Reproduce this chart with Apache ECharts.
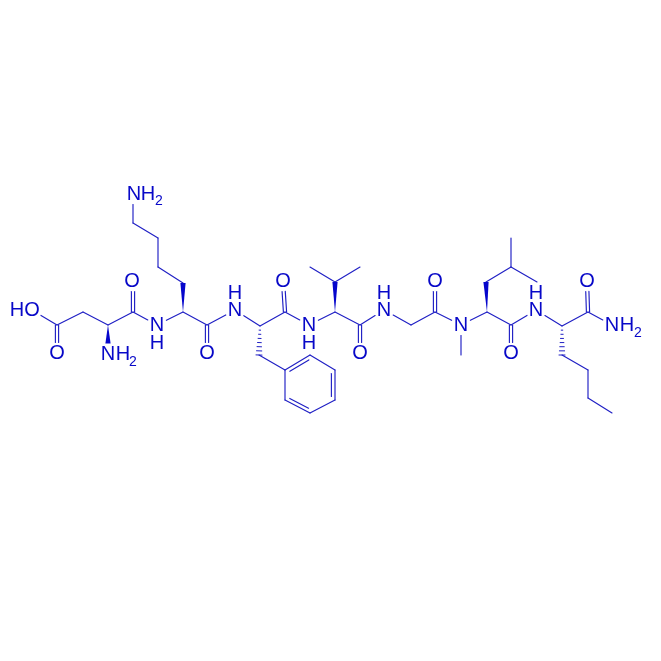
<!DOCTYPE html>
<html><head><meta charset="utf-8">
<style>html,body{margin:0;padding:0;background:#fff}#c{width:661px;height:661px}</style>
<script src="https://cdn.jsdelivr.net/npm/echarts@6/dist/echarts.min.js"></script>
</head><body><div id="c"></div>
<script>
// Atom positions
const atomX = [32,57,57,83,108,108,133,133,157,183,183,158,158,133,133,207,207,235,260,285,283,309,335,335,310,360,360,360,384,411,259,285,310,335,335,310,285,435,435,461,461,487,486,511,511,537,511,511,536,562,562,588,588,612,588,587,612];
const atomY = [310,325,353,312,325,354,312,281,325,312,283,267,238,223,194,325,353,310,326,312,281,325,312,282,267,267,325,353,310,325,355,370,355,370,400,413,400,312,281,325,355,312,282,267,238,282,325,353,310,326,355,370,398,413,312,281,325];
// Atoms that carry a text label, with the gap left around them
const labelledAtoms = [0,2,5,7,8,14,16,17,20,21,27,28,38,39,47,48,55,56];
const gapRadius = 10.5;
// Bonds as pairs of atom indexes
const singleBonds = [[0,1],[1,3],[3,4],[4,6],[6,8],[8,9],[10,11],[11,12],[12,13],[13,14],[9,15],[15,17],[17,18],[18,19],[19,21],[21,22],[23,24],[23,25],[22,26],[26,28],[28,29],[29,37],[37,39],[39,40],[39,41],[41,46],[42,43],[43,44],[43,45],[46,48],[48,49],[50,51],[51,52],[52,53],[49,54],[54,56],[30,31],[32,33],[34,35],[36,31]];
const carbonylBonds = [[1,2],[6,7],[15,16],[19,20],[26,27],[37,38],[46,47],[54,55]];
const ringBonds = [[31,32],[33,34],[35,36]];
const ringCentre = [310,385];
const wedgeBonds = [[4,5],[9,10],[22,23],[41,42]];
const hashBonds = [[18,30],[49,50]];
// Labels, one glyph at a time
const labelText = ['H','O','O','N','H','2','O','N','H','N','H','2','O','N','H','O','N','H','O','N','H','O','N','N','H','O','O','N','H','2'];
const labelX = [17,32,57,108,123,133,132,157,157,134,148,159,207,235,235,283,309,309,360,384,384,435,461,536,536,511,587,612,627,638];
const labelY = [310,310,353,354,354,362,281,325,343,194,194,201,353,310,293,281,325,343,353,310,293,281,325,310,293,353,281,325,325,333];
const subscriptSize = 14, labelSize = 20;

const INK='#0808c8', LINE='#1f1fc4';
const hidden={show:false};
const gapSet=new Set(labelledAtoms);
function seg(api,a,b){
  let p=api.coord([atomX[a],atomY[a]]),q=api.coord([atomX[b],atomY[b]]);
  const dx=q[0]-p[0],dy=q[1]-p[1],L=Math.hypot(dx,dy),ux=dx/L,uy=dy/L;
  if(gapSet.has(a))p=[p[0]+ux*gapRadius,p[1]+uy*gapRadius];
  if(gapSet.has(b))q=[q[0]-ux*gapRadius,q[1]-uy*gapRadius];
  return {p,q,ux,uy};
}
const ln=(x1,y1,x2,y2,w)=>({type:'line',shape:{x1,y1,x2,y2},style:{stroke:LINE,lineWidth:w||1.15,lineCap:'round'}});
function bondSeries(name,bonds,draw){
  return {type:'custom',name,coordinateSystem:'cartesian2d',silent:true,animation:false,clip:false,
    data:bonds.map((b,i)=>[atomX[b[0]],atomY[b[0]],i]),encode:{x:0,y:1},
    renderItem:(params,api)=>{const b=bonds[params.dataIndex];return {type:'group',children:draw(api,b)};}};
}
const series=[
  bondSeries('single',singleBonds,(api,b)=>{const s=seg(api,b[0],b[1]);return [ln(s.p[0],s.p[1],s.q[0],s.q[1])];}),
  bondSeries('carbonyl',carbonylBonds,(api,b)=>{const s=seg(api,b[0],b[1]);const o=1.6,nx=-s.uy*o,ny=s.ux*o;
    return [ln(s.p[0]+nx,s.p[1]+ny,s.q[0]+nx,s.q[1]+ny),ln(s.p[0]-nx,s.p[1]-ny,s.q[0]-nx,s.q[1]-ny)];}),
  bondSeries('ring',ringBonds,(api,b)=>{const s=seg(api,b[0],b[1]);const c=api.coord(ringCentre);
    const m=[(s.p[0]+s.q[0])/2,(s.p[1]+s.q[1])/2];let nx=-s.uy,ny=s.ux;
    if((c[0]-m[0])*nx+(c[1]-m[1])*ny<0){nx=-nx;ny=-ny;}
    const o=3.6,t=3.5;
    return [ln(s.p[0],s.p[1],s.q[0],s.q[1]),
      ln(s.p[0]+nx*o+s.ux*t,s.p[1]+ny*o+s.uy*t,s.q[0]+nx*o-s.ux*t,s.q[1]+ny*o-s.uy*t)];}),
  bondSeries('wedge',wedgeBonds,(api,b)=>{const s=seg(api,b[0],b[1]);const w=2.6,nx=-s.uy*w,ny=s.ux*w;
    return [{type:'polygon',shape:{points:[s.p,[s.q[0]+nx,s.q[1]+ny],[s.q[0]-nx,s.q[1]-ny]]},style:{fill:'#0606cc'}}];}),
  bondSeries('hash',hashBonds,(api,b)=>{const s=seg(api,b[0],b[1]);const L=Math.hypot(s.q[0]-s.p[0],s.q[1]-s.p[1]),out=[],n=7;
    for(let i=1;i<=n;i++){const t=i/n,w=0.4+2.6*t,cx=s.p[0]+s.ux*L*t,cy=s.p[1]+s.uy*L*t;
      out.push(ln(cx-s.uy*w,cy+s.ux*w,cx+s.uy*w,cy-s.ux*w,1));}
    return out;}),
  {type:'custom',name:'labels',coordinateSystem:'cartesian2d',silent:true,animation:false,clip:false,
    data:labelText.map((t,i)=>[labelX[i],labelY[i],t]),encode:{x:0,y:1},
    renderItem:(params,api)=>{const c=api.coord([api.value(0),api.value(1)]);const t=labelText[params.dataIndex];
      return {type:'text',style:{text:t,x:c[0],y:c[1],align:'center',verticalAlign:'middle',
        fontFamily:'"Liberation Sans",Arial,sans-serif',fontSize:t==='2'?subscriptSize:labelSize,fill:INK}};}}
];
const chart=echarts.init(document.getElementById('c'),null,{renderer:'canvas'});
chart.setOption({backgroundColor:'#fff',animation:false,tooltip:{show:false},
  grid:{left:0,right:0,top:0,bottom:0},
  xAxis:{type:'value',min:0,max:661,...hidden},
  yAxis:{type:'value',min:0,max:661,inverse:true,...hidden},
  series});
</script></body></html>
